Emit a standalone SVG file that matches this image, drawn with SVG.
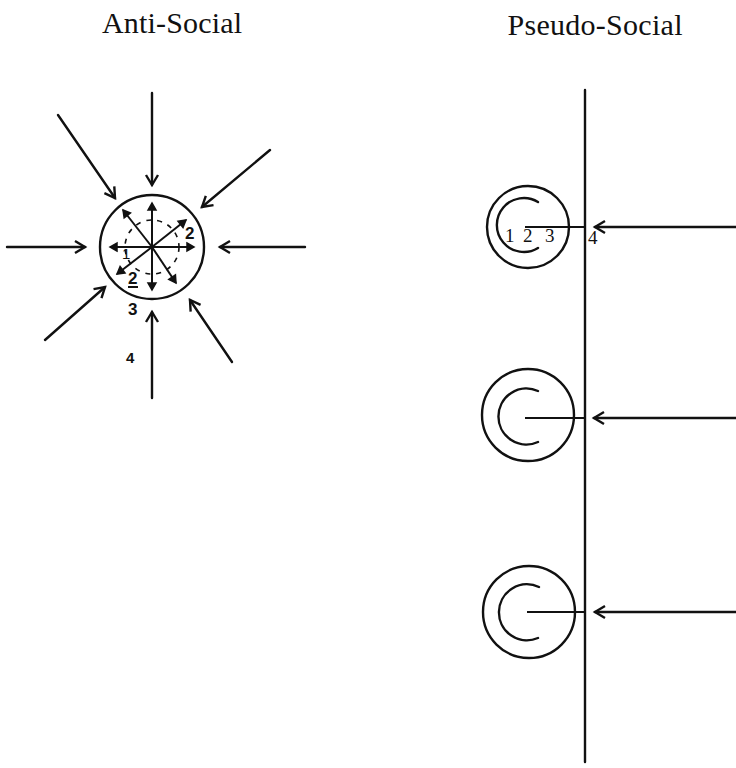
<svg xmlns="http://www.w3.org/2000/svg" width="736" height="768" viewBox="0 0 736 768">
<style>
.ln{stroke:#111;stroke-width:2.4;fill:none;stroke-linecap:round}
.thin{stroke:#111;stroke-width:2;fill:none}
.dash{stroke:#111;stroke-width:1.6;fill:none;stroke-dasharray:5 6}
.title{font-family:"Liberation Serif",serif;font-size:30px;fill:#111}
.lab{font-family:"Liberation Sans",sans-serif;font-size:17px;fill:#111;font-weight:bold}
.labs{font-family:"Liberation Serif",serif;font-size:19px;fill:#111}
.arr{marker-end:url(#ah)}
.arrs{marker-end:url(#ahs)}
</style>
<defs>
<marker id="ah" markerWidth="16" markerHeight="16" refX="12" refY="8" orient="auto" markerUnits="userSpaceOnUse">
<path d="M2,2 L12,8 L2,14" fill="none" stroke="#111" stroke-width="2.4" stroke-linejoin="miter"/>
</marker>
<marker id="ahs" markerWidth="12" markerHeight="12" refX="9" refY="6" orient="auto" markerUnits="userSpaceOnUse">
<path d="M2,2 L9,6 L2,10 Z" fill="#111" stroke="#111" stroke-width="1.5"/>
</marker>
</defs>
<rect width="736" height="768" fill="#fff"/>

<g id="titles">
<text class="title" x="172" y="33" text-anchor="middle" textLength="140">Anti-Social</text>
<text class="title" x="595" y="35" text-anchor="middle" textLength="175">Pseudo-Social</text>
</g>

<g id="anti-social-node">
<circle class="ln" cx="152" cy="247" r="52"/>
<circle class="dash" cx="152" cy="247" r="27"/>
<line class="thin arrs" x1="152" y1="247" x2="152" y2="203"/>
<line class="thin arrs" x1="152" y1="247" x2="152" y2="290"/>
<line class="thin arrs" x1="152" y1="247" x2="110" y2="247"/>
<line class="thin arrs" x1="152" y1="247" x2="194" y2="247"/>
<line class="thin arrs" x1="152" y1="247" x2="123" y2="210"/>
<line class="thin arrs" x1="152" y1="247" x2="176" y2="283"/>
<line class="thin arrs" x1="152" y1="247" x2="186" y2="220"/>
<line class="thin arrs" x1="152" y1="247" x2="117" y2="274"/>
<text class="lab" x="122" y="259" style="font-size:15px;font-weight:normal">1</text>
<text class="lab" x="128" y="284">2</text>
<line class="thin" x1="128" y1="287" x2="138" y2="287" stroke-width="1.2"/>
<text class="lab" x="185" y="239">2</text>
<text class="lab" x="128" y="315">3</text>
<text class="lab" x="126" y="363" style="font-size:15px">4</text>
</g>

<g id="pseudo-social-line">
<line class="ln" x1="585" y1="90" x2="585" y2="762"/>
</g>

<g id="pseudo-node-1">
<circle class="ln" cx="528" cy="227" r="41"/>
<path class="ln" d="M538,202 A27,27 0 1 0 538,248"/>
<line class="thin" x1="525" y1="227" x2="585" y2="227"/>
<text class="labs" x="505" y="242">1</text>
<text class="labs" x="523" y="242">2</text>
<text class="labs" x="545" y="242">3</text>
<text class="labs" x="588" y="244">4</text>
</g>

<g id="pseudo-node-2">
<circle class="ln" cx="528" cy="415" r="46"/>
<path class="ln" d="M538,391 A28,28 0 1 0 538,442"/>
<line class="thin" x1="525" y1="418" x2="585" y2="418"/>
</g>

<g id="pseudo-node-3">
<circle class="ln" cx="529" cy="612" r="46"/>
<path class="ln" d="M539,587 A28,28 0 1 0 538,638"/>
<line class="thin" x1="527" y1="612" x2="585" y2="612" stroke-width="2.6"/>
</g>

<g id="connectors">
<line class="ln arr" x1="152" y1="93" x2="152" y2="185"/>
<line class="ln arr" x1="58" y1="115" x2="115" y2="198"/>
<line class="ln arr" x1="270" y1="150" x2="202" y2="207"/>
<line class="ln arr" x1="7" y1="247" x2="85" y2="247"/>
<line class="ln arr" x1="305" y1="247" x2="220" y2="247"/>
<line class="ln arr" x1="45" y1="340" x2="105" y2="287"/>
<line class="ln arr" x1="152" y1="398" x2="152" y2="312"/>
<line class="ln arr" x1="232" y1="362" x2="190" y2="300"/>
<line class="ln arr" x1="736" y1="227" x2="595" y2="227"/>
<line class="ln arr" x1="736" y1="418" x2="594" y2="418"/>
<line class="ln arr" x1="736" y1="612" x2="595" y2="612"/>
</g>
</svg>
